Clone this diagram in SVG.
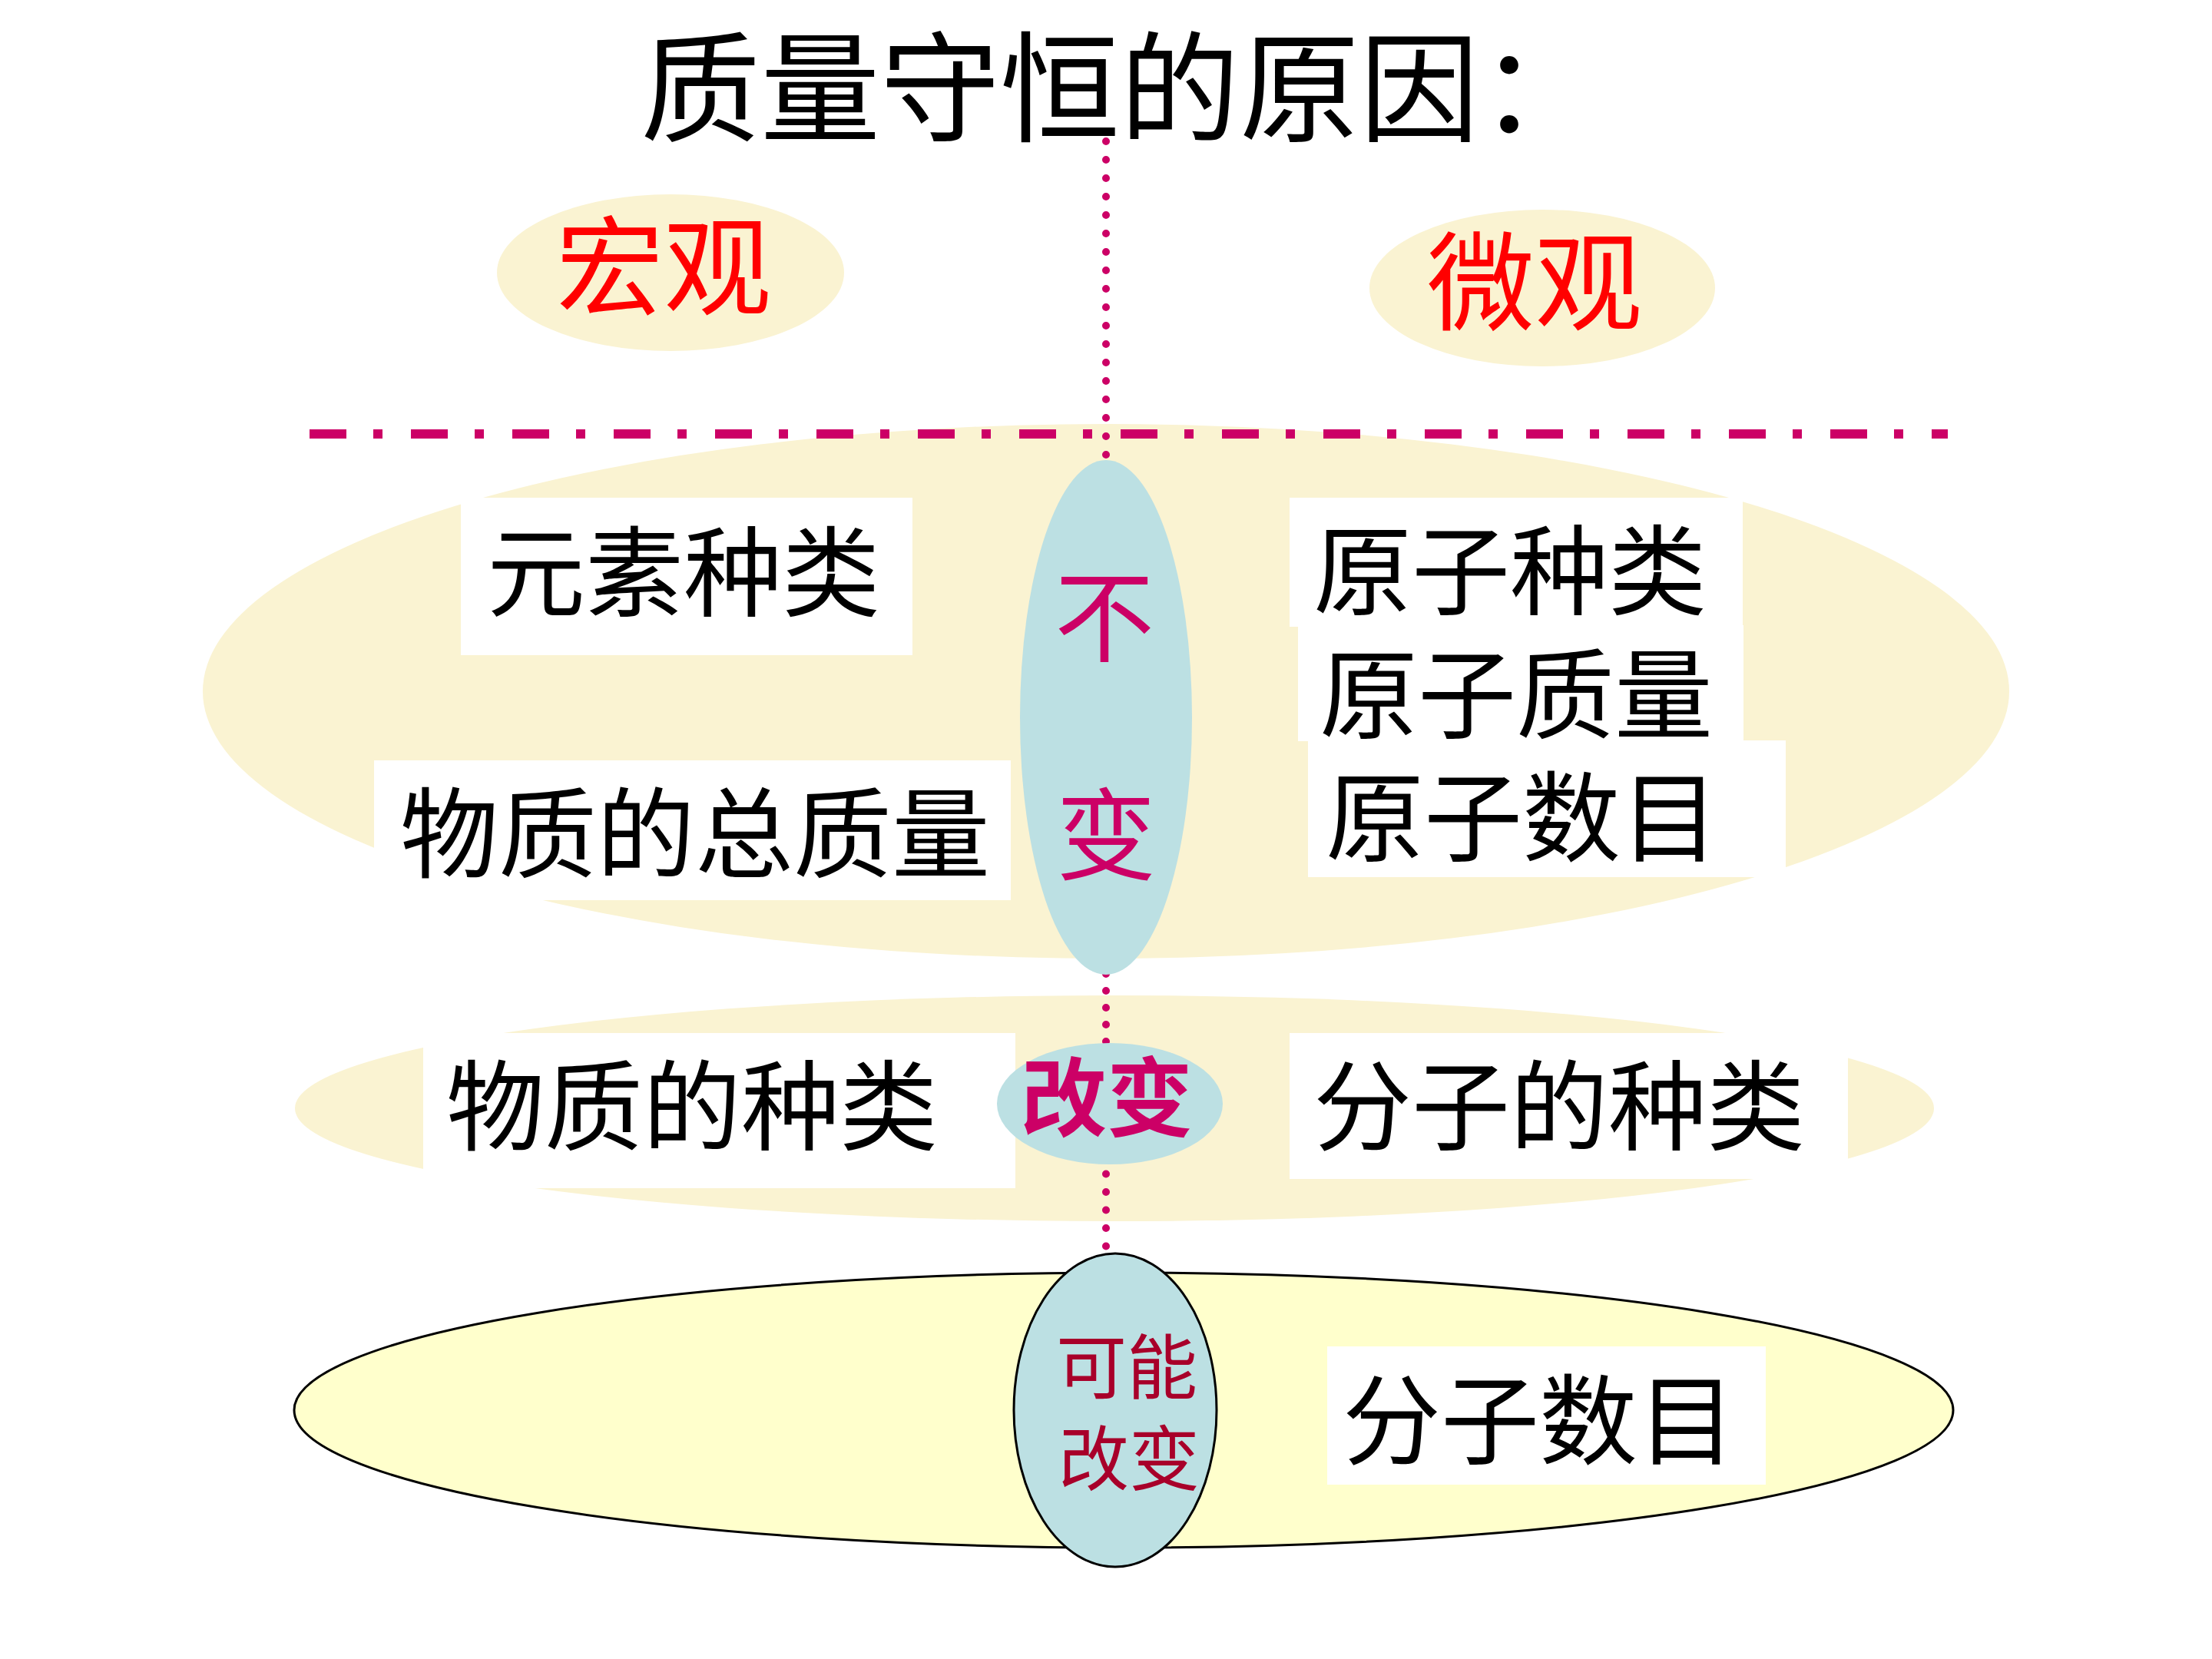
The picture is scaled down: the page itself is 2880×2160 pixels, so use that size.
<svg xmlns="http://www.w3.org/2000/svg" width="2880" height="2160" viewBox="0 0 2880 2160">
<style>
text{font-family:"Noto Sans CJK SC","Noto Sans CJK JP",sans-serif;dominant-baseline:central;text-anchor:middle}
.item{font-size:128px;fill:#000}
.cream{fill:#FAF3D2}
.blue{fill:#BCE0E3}
.box{fill:#fff}
.dots{stroke:#CC0066;stroke-width:10;stroke-linecap:round;fill:none}
.mag{fill:#CC0066}
</style>
<rect width="2880" height="2160" fill="#fff"/>
<g id="title"><text x="834" y="104" style="font-size:156px;fill:#000;text-anchor:start">质量守恒的原因：</text></g>
<g id="macro"><ellipse cx="873" cy="355" rx="226" ry="102" class="cream"/><text x="864" y="338" style="font-size:140px;fill:#FF0000">宏观</text></g>
<g id="micro"><ellipse cx="2008" cy="375" rx="225" ry="102" class="cream"/><text x="1998" y="358" style="font-size:140px;fill:#FF0000">微观</text></g>
<g id="band1"><ellipse cx="1440" cy="900" rx="1176" ry="348" class="cream"/></g>
<g id="band2"><ellipse cx="1451" cy="1443" rx="1067" ry="147" class="cream"/></g>
<g id="band3"><ellipse cx="1463" cy="1836" rx="1080" ry="179" fill="#FFFFCC" stroke="#000" stroke-width="3"/></g>
<g id="connectors">
<line x1="403" y1="565" x2="2536" y2="565" stroke="#CC0066" stroke-width="12" stroke-dasharray="48 35 12 37"/>
<line class="dots" x1="1440" y1="184" x2="1440" y2="610" stroke-dasharray="0 24"/>
<line class="dots" x1="1440" y1="1268" x2="1440" y2="1370" stroke-dasharray="0 22"/>
<line class="dots" x1="1440" y1="1505" x2="1440" y2="1625" stroke-dasharray="0 23.5"/>
</g>
<g id="n-yuansu"><rect x="600" y="648" width="588" height="205" class="box"/><text x="890" y="737" class="item">元素种类</text></g>
<g id="n-zongzhiliang"><rect x="487" y="990" width="829" height="182" class="box"/><text x="905" y="1077" class="item">物质的总质量</text></g>
<g id="n-yuanzizhonglei"><rect x="1679" y="648" width="590" height="168" class="box"/><text x="1966" y="735" class="item">原子种类</text></g>
<g id="n-yuanzizhiliang"><rect x="1690" y="814" width="580" height="151" class="box"/><text x="1974" y="896" class="item">原子质量</text></g>
<g id="n-yuanzishumu"><rect x="1703" y="964" width="622" height="178" class="box"/><text x="1982" y="1056" class="item">原子数目</text></g>
<g id="n-bubian"><ellipse cx="1440" cy="934" rx="112" ry="335" class="blue"/><text x="1438" y="794" class="mag" style="font-size:130px">不</text><text x="1440" y="1078" class="mag" style="font-size:130px">变</text></g>
<g id="n-wuzhizhonglei"><rect x="551" y="1345" width="771" height="202" class="box"/><text x="901" y="1432" class="item">物质的种类</text></g>
<g id="n-fenzizhonglei"><rect x="1679" y="1345" width="727" height="190" class="box"/><text x="2030" y="1432" class="item">分子的种类</text></g>
<g id="n-gaibian"><ellipse cx="1445" cy="1437" rx="147" ry="79" class="blue"/><text x="1441" y="1422" class="mag" style="font-size:112px;font-weight:bold">改变</text></g>
<g id="n-fenzishumu"><rect x="1728" y="1753" width="571" height="180" class="box"/><text x="2004" y="1841" class="item">分子数目</text></g>
<g id="n-kenenggaibian"><ellipse cx="1452" cy="1836" rx="132" ry="204" class="blue" stroke="#000" stroke-width="3"/><text x="1467" y="1773" style="font-size:92px;fill:#A8002A">可能</text><text x="1470" y="1892" style="font-size:92px;fill:#A8002A">改变</text></g>
</svg>
